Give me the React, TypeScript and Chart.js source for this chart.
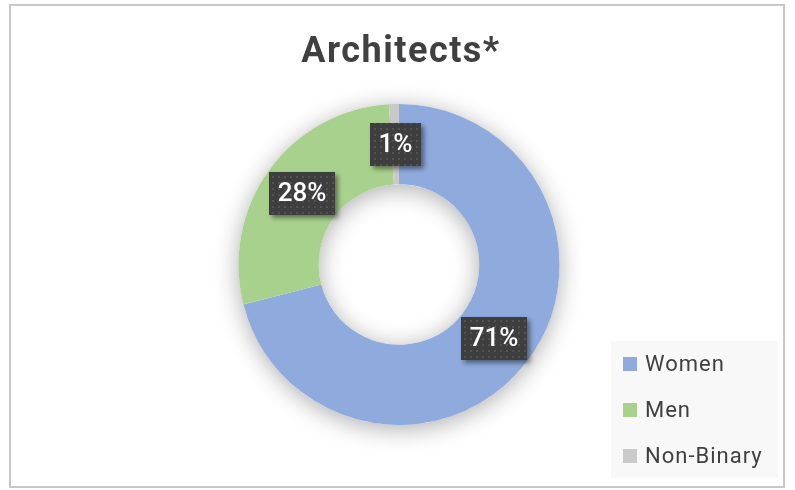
import React, { useEffect, useRef } from "react";
import { Chart, registerables } from "chart.js";

Chart.register(...registerables);

const TITLE = "Architects*";
const categories = ["Women", "Men", "Non-Binary"];
const values = [71, 28, 1];
const valueLabels = ["71%", "28%", "1%"];
const colors = ["#8FAADC", "#A9D18E", "#C9C9C9"];

const FONT = "Roboto, 'DejaVu Sans', sans-serif";
const TEXT_COLOR = "#404040";

function makePattern(ctx: CanvasRenderingContext2D) {
  const c = document.createElement("canvas");
  c.width = 6;
  c.height = 6;
  const p = c.getContext("2d")!;
  p.fillStyle = "#3e3e3e";
  p.fillRect(0, 0, 6, 6);
  p.fillStyle = "#535353";
  p.fillRect(2, 2, 2, 2);
  return ctx.createPattern(c, "repeat")!;
}

const ringShadow = {
  id: "ringShadow",
  beforeDatasetsDraw(chart: any) {
    const meta = chart.getDatasetMeta(0);
    const arc = meta.data[0];
    if (!arc) return;
    const { x, y, innerRadius, outerRadius } = arc.getProps(
      ["x", "y", "innerRadius", "outerRadius"],
      true
    );
    const ctx = chart.ctx as CanvasRenderingContext2D;
    ctx.save();
    ctx.shadowColor = "rgba(0,0,0,0.32)";
    ctx.shadowBlur = 24;
    ctx.shadowOffsetY = 4;
    ctx.beginPath();
    ctx.arc(x, y, outerRadius, 0, Math.PI * 2);
    ctx.moveTo(x + innerRadius, y);
    ctx.arc(x, y, innerRadius, 0, Math.PI * 2, true);
    ctx.fillStyle = "#ffffff";
    ctx.fill();
    ctx.restore();
  },
};

const boxLabels = {
  id: "boxLabels",
  afterDatasetsDraw(chart: any) {
    const ctx = chart.ctx as CanvasRenderingContext2D;
    const meta = chart.getDatasetMeta(0);
    const pattern = makePattern(ctx);
    meta.data.forEach((arc: any, i: number) => {
      const p = arc.tooltipPosition(true);
      const text = valueLabels[i];
      ctx.save();
      ctx.font = `500 26px ${FONT}`;
      const w = Math.round(ctx.measureText(text).width + 17);
      const h = 43;
      const bx = Math.round(p.x - w / 2);
      const by = Math.round(p.y - h / 2);
      ctx.shadowColor = "rgba(0,0,0,0.45)";
      ctx.shadowBlur = 5;
      ctx.shadowOffsetX = 3;
      ctx.shadowOffsetY = 3;
      ctx.fillStyle = pattern;
      ctx.fillRect(bx, by, w, h);
      ctx.shadowColor = "transparent";
      ctx.fillStyle = "#ffffff";
      ctx.textAlign = "center";
      ctx.textBaseline = "middle";
      ctx.fillText(text, bx + w / 2, by + h / 2 + 1);
      ctx.restore();
    });
  },
};

const decorations = {
  id: "decorations",
  afterDraw(chart: any) {
    const ctx = chart.ctx as CanvasRenderingContext2D;
    ctx.save();
    // frame
    ctx.strokeStyle = "#c8c8c8";
    ctx.lineWidth = 2;
    ctx.strokeRect(10, 5, 774, 482);
    // title
    ctx.fillStyle = TEXT_COLOR;
    ctx.font = `bold 36px ${FONT}`;
    (ctx as any).letterSpacing = "1.5px";
    ctx.textAlign = "center";
    ctx.textBaseline = "alphabetic";
    ctx.fillText(TITLE, 401, 62);
    // legend
    ctx.fillStyle = "#f8f8f8";
    ctx.fillRect(611, 341, 167, 137);
    ctx.font = `22px ${FONT}`;
    (ctx as any).letterSpacing = "1px";
    ctx.textAlign = "left";
    ctx.textBaseline = "middle";
    categories.forEach((c, i) => {
      const cy = 364 + i * 46;
      ctx.fillStyle = colors[i];
      ctx.fillRect(623, cy - 7, 14, 14);
      ctx.fillStyle = TEXT_COLOR;
      ctx.fillText(c, 645, cy + 1);
    });
    (ctx as any).letterSpacing = "0px";
    ctx.restore();
  },
};

export default function App() {
  const ref = useRef<HTMLCanvasElement | null>(null);
  useEffect(() => {
    if (!ref.current) return;
    const chart = new Chart(ref.current, {
      type: "doughnut",
      data: {
        labels: categories,
        datasets: [
          {
            data: values,
            backgroundColor: colors,
            borderWidth: 0,
          },
        ],
      },
      options: {
        animation: false,
        responsive: false,
        maintainAspectRatio: false,
        cutout: "50%",
        rotation: 0,
        layout: {
          padding: { top: 104, bottom: 65, left: 238.5, right: 235.5 },
        },
        plugins: {
          legend: { display: false },
          title: { display: false },
          tooltip: { enabled: false },
        },
      },
      plugins: [ringShadow, boxLabels, decorations],
    });
    return () => chart.destroy();
  }, []);
  return (
    <div
      style={{
        position: "fixed",
        left: 0,
        top: 0,
        width: 795,
        height: 490,
        background: "#ffffff",
      }}
    >
      <canvas ref={ref} width={795} height={490} style={{ display: "block" }} />
    </div>
  );
}
